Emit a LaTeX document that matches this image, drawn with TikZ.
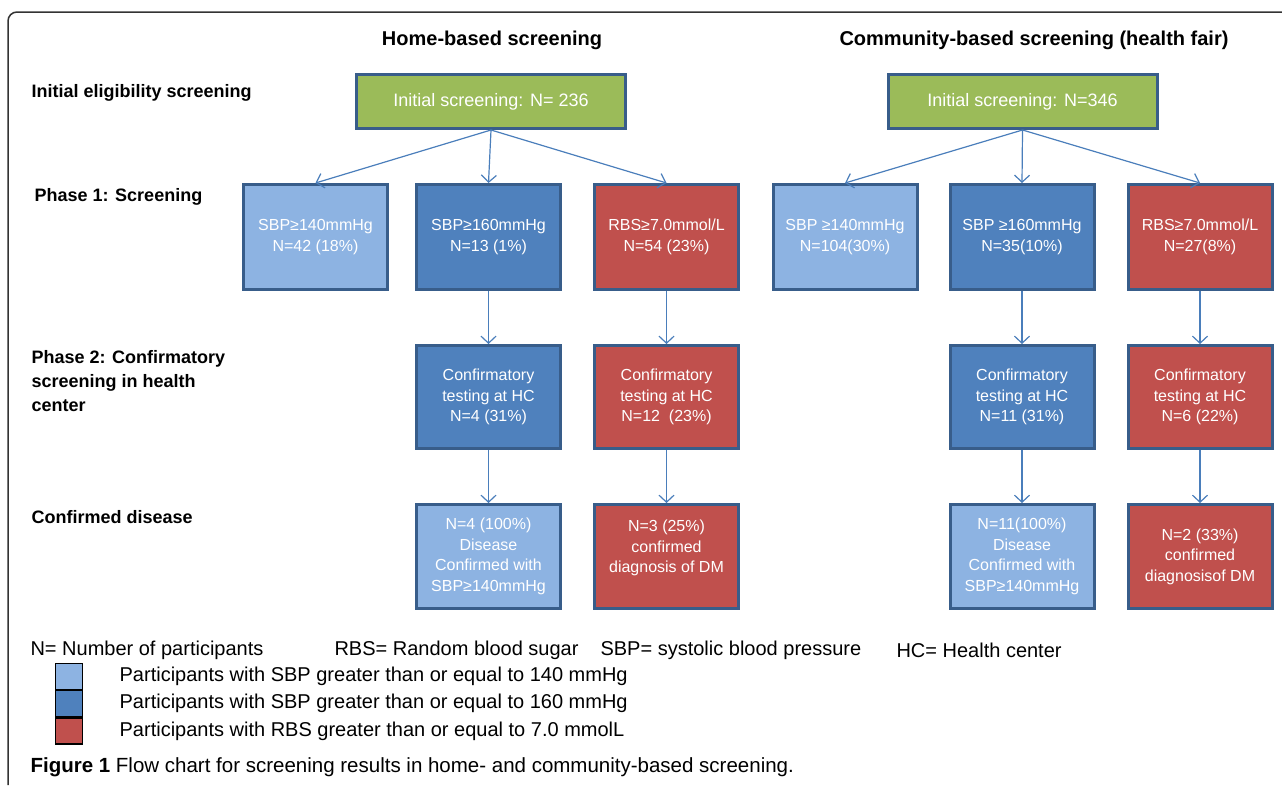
\documentclass[tikz,border=0pt]{standalone}
\usepackage{fontspec}
\setmainfont{Liberation Sans}
\usetikzlibrary{arrows.meta,positioning}

\definecolor{initgreen}{HTML}{9BBB59}
\definecolor{sbplight}{HTML}{8DB3E2}
\definecolor{sbpdark}{HTML}{4F81BD}
\definecolor{rbsred}{HTML}{C0504D}
\definecolor{boxline}{HTML}{385D8A}
\definecolor{flowblue}{HTML}{4A7EBB}

\tikzset{
    box/.style={draw=boxline, line width=3pt, text=white, align=center,
        font=\fontsize{16}{20.5}\selectfont, inner sep=2pt},
    initbox/.style={box, fill=initgreen, minimum width=269pt, minimum height=54pt,
        font=\fontsize{18}{22}\selectfont},
    stepone/.style={box, minimum width=144pt, minimum height=105pt},
    steptwo/.style={box, minimum width=144pt, minimum height=103pt},
    stepthree/.style={box, minimum width=144pt, minimum height=104pt},
    heading/.style={font=\fontsize{20}{24}\bfseries\selectfont},
    rowlabel/.style={anchor=west, align=left, font=\fontsize{18}{24}\bfseries\selectfont},
    keytext/.style={anchor=west, font=\fontsize{20}{24}\selectfont},
    swatch/.style={draw=black, line width=1.2pt, minimum width=27pt, minimum height=26pt, inner sep=0pt},
    flow/.style={->, color=flowblue, line width=1.2pt},
}

\begin{document}
\begin{tikzpicture}[x=1pt, y=-1pt, >={Straight Barb[length=7pt,width=15pt]}]
    \useasboundingbox (0,0) rectangle (1282,785);
    \draw[line width=1.5pt, color=black!80, rounded corners=9pt] (8,785) -- (8,12) -- (1282,12);

    % headings and row labels
    \node[heading] at (492, 40)(homehead){Home-based screening};
    \node[heading] at (1034, 40)(commhead){Community-based screening (health fair)};
    \node[rowlabel] at (28, 93)(lblinit){Initial eligibility screening};
    \node[rowlabel] at (31, 197)(lblone){Phase 1: Screening};
    \node[rowlabel] at (28, 381)(lbltwo){Phase 2: Confirmatory\\screening in health\\center};
    \node[rowlabel] at (28, 517)(lblthree){Confirmed disease};

    % home-based
    \node[initbox] at (491, 101.5)(hinit){Initial screening: N= 236};
    \node[stepone, fill=sbplight] at (315.5, 237)(hsbpa){SBP≥140mmHg\\N=42 (18\%)};
    \node[stepone, fill=sbpdark] at (488.5, 237)(hsbpb){SBP≥160mmHg\\N=13 (1\%)};
    \node[stepone, fill=rbsred] at (666.5, 237)(hrbs){RBS≥7.0mmol/L\\N=54 (23\%)};
    \node[steptwo, fill=sbpdark] at (488.5, 397)(hconfb){Confirmatory\\testing at HC\\N=4 (31\%)};
    \node[steptwo, fill=rbsred] at (666.5, 397)(hconfr){Confirmatory\\testing at HC\\N=12~ (23\%)};
    \node[stepthree, fill=sbplight] at (488.5, 556.5)(hdisb){N=4 (100\%)\\Disease\\Confirmed with\\SBP≥140mmHg};
    \node[stepthree, fill=rbsred] at (666.5, 556.5)(hdisr){N=3 (25\%)\\confirmed\\diagnosis of DM\\\mbox{}};

    % community-based
    \node[initbox] at (1022.5, 101.5)(cinit){Initial screening: N=346};
    \node[stepone, fill=sbplight] at (845, 237)(csbpa){SBP ≥140mmHg\\N=104(30\%)};
    \node[stepone, fill=sbpdark] at (1022, 237)(csbpb){SBP ≥160mmHg\\N=35(10\%)};
    \node[stepone, fill=rbsred] at (1200, 237)(crbs){RBS≥7.0mmol/L\\N=27(8\%)};
    \node[steptwo, fill=sbpdark] at (1022, 397)(cconfb){Confirmatory\\testing at HC\\N=11 (31\%)};
    \node[steptwo, fill=rbsred] at (1200, 397)(cconfr){Confirmatory\\testing at HC\\N=6 (22\%)};
    \node[stepthree, fill=sbplight] at (1022, 556.5)(cdisb){N=11(100\%)\\Disease\\Confirmed with\\SBP≥140mmHg};
    \node[stepthree, fill=rbsred] at (1200, 556.5)(cdisr){N=2 (33\%)\\confirmed\\diagnosisof DM};

    \path[flow]
        (hinit.south)edge(hsbpa.north)
        (hinit.south)edge(hsbpb.north)
        (hinit.south)edge(hrbs.north)
        (hsbpb)edge(hconfb)
        (hrbs)edge(hconfr)
        (hconfb)edge(hdisb)
        (hconfr)edge(hdisr)
        (cinit.south)edge(csbpa.north)
        (cinit.south)edge(csbpb.north)
        (cinit.south)edge(crbs.north)
        (csbpb)edge(cconfb)
        (crbs)edge(cconfr)
        (cconfb)edge(cdisb)
        (cconfr)edge(cdisr)
        ;

    % key
    \node[keytext] at (27, 650)(keyn){N= Number of participants};
    \node[keytext] at (331, 650)(keyrbs){RBS= Random blood sugar};
    \node[keytext] at (597, 650)(keysbp){SBP= systolic blood pressure};
    \node[keytext] at (893, 650)(keyhc){HC= Health center};
    \node[swatch, fill=sbplight] at (69, 676.5)(swa){};
    \node[swatch, fill=sbpdark, below=0pt of swa](swb){};
    \node[swatch, fill=rbsred, below=0pt of swb](swc){};
    \node[keytext, right=33pt of swa](keya){Participants with SBP greater than or equal to 140 mmHg};
    \node[keytext, right=33pt of swb](keyb){Participants with SBP greater than or equal to 160 mmHg};
    \node[keytext, right=33pt of swc](keyc){Participants with RBS greater than or equal to 7.0 mmolL};

    \node[anchor=west, font=\fontsize{20.5}{24}\selectfont] at (27, 767)(caption){\textbf{Figure 1} Flow chart for screening results in home- and community-based screening.};
\end{tikzpicture}
\end{document}
